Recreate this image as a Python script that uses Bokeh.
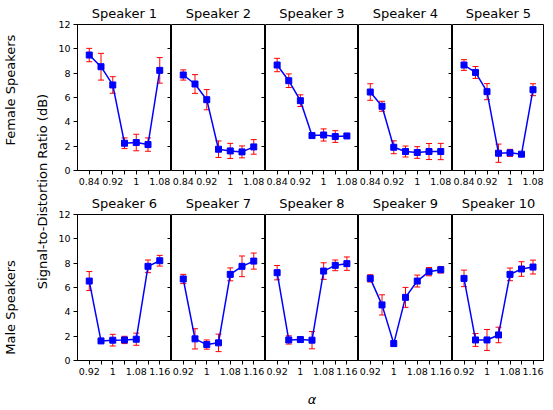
from bokeh.plotting import figure
from bokeh.models import (ColumnDataSource, Whisker, TeeHead, FixedTicker,
                          LinearAxis, Range1d, Label, CustomLabelingPolicy)
from bokeh.layouts import row, column
from bokeh.embed import file_html
from bokeh.resources import INLINE

# ---------------- data ----------------
female_alpha = [0.84, 0.88, 0.92, 0.96, 1.00, 1.04, 1.08]
male_alpha = [0.92, 0.96, 1.00, 1.04, 1.08, 1.12, 1.16]

female_major_ticks = [0.84, 0.92, 1.00, 1.08]
female_tick_labels = ["0.84", "0.92", "1", "1.08"]
female_minor_ticks = [0.88, 0.96, 1.04]
male_major_ticks = [0.92, 1.00, 1.08, 1.16]
male_tick_labels = ["0.92", "1", "1.08", "1.16"]
male_minor_ticks = [0.96, 1.04, 1.12]
y_ticks = [0, 2, 4, 6, 8, 10, 12]

speaker_names = ["Speaker 1", "Speaker 2", "Speaker 3", "Speaker 4", "Speaker 5",
                 "Speaker 6", "Speaker 7", "Speaker 8", "Speaker 9", "Speaker 10"]

sdr_1 = [9.49, 8.53, 7.03, 2.24, 2.30, 2.13, 8.23]
err_1 = [0.55, 1.10, 0.68, 0.44, 0.68, 0.55, 1.05]
sdr_2 = [7.85, 7.11, 5.82, 1.75, 1.61, 1.53, 1.94]
err_2 = [0.42, 0.77, 0.83, 0.68, 0.62, 0.49, 0.60]
sdr_3 = [8.67, 7.38, 5.74, 2.87, 2.92, 2.79, 2.84]
err_3 = [0.55, 0.56, 0.48, 0.19, 0.50, 0.48, 0.18]
sdr_4 = [6.45, 5.28, 1.91, 1.56, 1.48, 1.56, 1.56]
err_4 = [0.68, 0.41, 0.53, 0.45, 0.48, 0.66, 0.67]
sdr_5 = [8.67, 8.06, 6.48, 1.42, 1.45, 1.34, 6.64]
err_5 = [0.44, 0.49, 0.66, 0.75, 0.29, 0.11, 0.49]
sdr_6 = [6.53, 1.61, 1.67, 1.69, 1.75, 7.74, 8.20]
err_6 = [0.78, 0.20, 0.48, 0.30, 0.50, 0.52, 0.44]
sdr_7 = [6.70, 1.78, 1.31, 1.45, 7.08, 7.74, 8.17]
err_7 = [0.38, 0.83, 0.38, 0.72, 0.53, 0.85, 0.66]
sdr_8 = [7.22, 1.69, 1.72, 1.67, 7.35, 7.82, 7.96]
err_8 = [0.59, 0.34, 0.22, 0.71, 0.68, 0.44, 0.55]
sdr_9 = [6.75, 4.57, 1.39, 5.19, 6.53, 7.30, 7.46]
err_9 = [0.30, 0.83, 0.22, 0.82, 0.49, 0.34, 0.27]
sdr_10 = [6.75, 1.69, 1.69, 2.10, 7.08, 7.52, 7.68]
err_10 = [0.68, 0.53, 0.86, 0.64, 0.52, 0.60, 0.57]

female_sdr = [sdr_1, sdr_2, sdr_3, sdr_4, sdr_5]
female_err = [err_1, err_2, err_3, err_4, err_5]
male_sdr = [sdr_6, sdr_7, sdr_8, sdr_9, sdr_10]
male_err = [err_6, err_7, err_8, err_9, err_10]

FONT = "DejaVu Sans"
FRAME_W = [94, 94, 93, 94, 92]
FRAME_H = 146

HIDE_ALL = CustomLabelingPolicy(code="""
try {
  for (let i = 0; i < indices.size; i++) { indices.unset(i) }
} catch (e) {}
return indices
""")


def make_panel(name, alphas, mean, err, xr, major, labels, minor, idx,
               top_border, bottom_border, xlabel=None):
    first = idx == 0
    last = idx == 4
    p = figure(frame_width=FRAME_W[idx], frame_height=FRAME_H,
               x_range=Range1d(*xr), y_range=Range1d(0, 12),
               output_backend="svg", toolbar_location=None,
               y_axis_location="left" if first else None,
               min_border_left=25 if first else 0, min_border_right=0,
               min_border_top=top_border, min_border_bottom=bottom_border,
               title=name)
    p.title.align = "center"
    p.title.text_font = FONT
    p.title.text_font_style = "normal"
    p.title.text_font_size = "13px"
    p.title.text_color = "black"
    p.title.standoff = 7
    p.outline_line_color = "black"
    p.outline_line_alpha = 1.0
    p.background_fill_color = "white"
    p.border_fill_color = "white"
    p.xgrid.visible = False
    p.ygrid.visible = False

    xa = p.xaxis[0]
    xa.ticker = FixedTicker(ticks=major, minor_ticks=minor)
    xa.major_label_overrides = dict(zip(major, labels))
    xa.major_tick_out = 4
    xa.major_tick_in = 0
    xa.minor_tick_out = 4
    xa.minor_tick_in = 0
    xa.minor_tick_line_color = "black"
    xa.major_tick_line_color = "black"
    xa.axis_line_color = "black"
    xa.major_label_text_font = FONT
    xa.major_label_text_font_size = "9.5px"
    xa.major_label_text_color = "black"
    xa.major_label_standoff = 3
    if xlabel:
        xa.axis_label = xlabel
        xa.axis_label_text_font = FONT
        xa.axis_label_text_font_style = "italic"
        xa.axis_label_text_font_size = "13px"
        xa.axis_label_text_color = "black"
        xa.axis_label_standoff = 14

    if first:
        ya = p.yaxis[0]
        ya.ticker = FixedTicker(ticks=y_ticks)
        ya.major_tick_out = 4
        ya.major_tick_in = 0
        ya.minor_tick_line_color = None
        ya.major_tick_line_color = "black"
        ya.axis_line_color = "black"
        ya.major_label_text_font = FONT
        ya.major_label_text_font_size = "9.5px"
        ya.major_label_text_color = "black"
        ya.major_label_standoff = 3

    if not last:
        # outward ticks of the neighbouring panel's left spine, drawn at the
        # shared edge (fixed_location keeps the axis from taking any space)
        ra = LinearAxis(ticker=FixedTicker(ticks=y_ticks), major_tick_in=4,
                        major_tick_out=0, axis_line_color=None,
                        minor_tick_line_color=None,
                        major_tick_line_color="black",
                        major_label_text_font_size="9.5px",
                        major_label_policy=HIDE_ALL,
                        major_label_standoff=0,
                        fixed_location=xr[1])
        p.add_layout(ra, "right")

    upper = [m + e for m, e in zip(mean, err)]
    lower = [m - e for m, e in zip(mean, err)]
    src = ColumnDataSource(dict(x=alphas, y=mean, upper=upper, lower=lower))
    wh = Whisker(source=src, base="x", upper="upper", lower="lower",
                 line_color="red", line_width=1, level="underlay",
                 upper_head=TeeHead(size=6, line_color="red", line_width=1),
                 lower_head=TeeHead(size=6, line_color="red", line_width=1))
    p.add_layout(wh)
    p.line("x", "y", source=src, line_color="blue", line_width=1.5)
    p.scatter("x", "y", source=src, marker="square", size=6,
              fill_color="blue", line_color="blue")
    return p


TOP1, BOT1, TOP2, BOT2 = 22, 20, 24, 46

top_panels = []
for i in range(5):
    top_panels.append(make_panel(speaker_names[i], female_alpha, female_sdr[i],
                                 female_err[i], (0.80, 1.12), female_major_ticks,
                                 female_tick_labels, female_minor_ticks, i,
                                 TOP1, BOT1))
bottom_panels = []
for i in range(5):
    bottom_panels.append(make_panel(speaker_names[5 + i], male_alpha, male_sdr[i],
                                    male_err[i], (0.88, 1.20), male_major_ticks,
                                    male_tick_labels, male_minor_ticks, i,
                                    TOP2, BOT2, xlabel="α" if i == 2 else None))

# left label strip
LW = 52
LH = TOP1 + FRAME_H + BOT1 + TOP2 + FRAME_H + BOT2
lab = figure(width=LW, height=LH, x_range=Range1d(0, LW), y_range=Range1d(0, LH),
             output_backend="svg", toolbar_location=None,
             x_axis_location=None, y_axis_location=None, min_border=0)
lab.outline_line_color = None
lab.xgrid.visible = False
lab.ygrid.visible = False
lab.background_fill_color = "white"
lab.border_fill_color = "white"
for txt, x, y in [("Female Speakers", 10, LH - 89.5),
                  ("Signal-to-Distortion Ratio (dB)", 42, LH - 191),
                  ("Male Speakers", 10, LH - 307)]:
    lab.add_layout(Label(x=x, y=y, text=txt, angle=90, angle_units="deg",
                         text_align="center", text_baseline="middle",
                         text_font=FONT, text_font_size="13px",
                         text_color="black"))

layout = row(lab, column(row(*top_panels), row(*bottom_panels)))

open("out.html", "w").write(file_html(layout, INLINE))
